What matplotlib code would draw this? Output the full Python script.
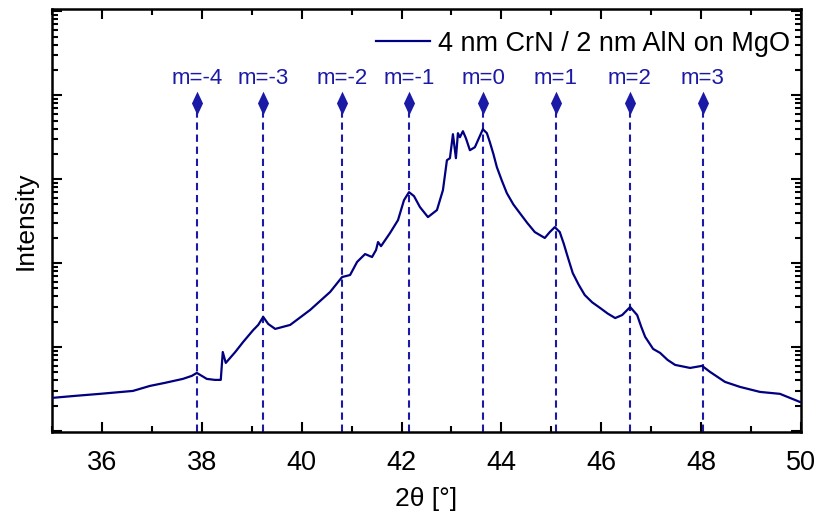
import numpy as np
import matplotlib
matplotlib.use("Agg")
import matplotlib.pyplot as plt
from matplotlib.ticker import LogLocator, MultipleLocator, NullFormatter

plt.rcParams['font.family'] = ['Liberation Sans', 'DejaVu Sans']

# XRD scan, 4 nm CrN / 2 nm AlN superlattice on MgO
two_theta = [35.00, 35.46, 35.96, 36.62, 36.96, 37.26, 37.62, 37.80, 37.90, 38.00,
             38.10, 38.26, 38.38, 38.42, 38.48, 38.67, 38.83, 39.03, 39.13, 39.23,
             39.33, 39.47, 39.77, 40.17, 40.57, 40.81, 40.97, 41.11, 41.27, 41.41,
             41.49, 41.53, 41.59, 41.77, 41.93, 42.05, 42.15, 42.25, 42.37, 42.53,
             42.71, 42.83, 42.91, 42.97, 43.03, 43.09, 43.13, 43.17, 43.23, 43.29,
             43.37, 43.47, 43.55, 43.63, 43.71, 43.77, 43.84, 43.91, 44.01, 44.11,
             44.24, 44.37, 44.52, 44.67, 44.87, 44.97, 45.07, 45.17, 45.25, 45.33,
             45.43, 45.55, 45.67, 45.82, 45.98, 46.13, 46.28, 46.42, 46.58, 46.72,
             46.80, 46.88, 47.04, 47.18, 47.33, 47.48, 47.78, 48.02, 48.18, 48.48,
             48.78, 49.18, 49.58, 49.98]
intensity = [2.47, 2.61, 2.76, 2.99, 3.43, 3.73, 4.16, 4.52, 4.90, 4.52,
             4.16, 4.05, 4.05, 8.7, 6.45, 8.7, 11.5, 15.9, 18.3, 22.8,
             18.8, 16.4, 18.3, 27.6, 45.2, 68.1, 72.0, 103, 128, 118,
             143, 178, 159, 228, 325, 562, 700, 628, 464, 353,
             428, 740, 1683, 1778, 3436, 1778, 3532, 3162, 3727, 3076,
             2213, 2404, 3076, 3937, 3532, 2754, 2000, 1390, 960, 681,
             500, 394, 300, 234, 199, 234, 268, 234, 170, 118,
             76, 55, 41.6, 34.0, 29.1, 25.0, 22.1, 24.0, 29.9, 24.0,
             17.5, 13.2, 9.47, 8.49, 7.0, 6.11, 5.62, 5.95, 5.04, 3.83,
             3.34, 2.91, 2.76, 2.21]

# satellite peak orders and positions
orders = [-4, -3, -2, -1, 0, 1, 2, 3]
sat_pos = [37.91, 39.23, 40.81, 42.16, 43.64, 45.09, 46.57, 48.03]
marker_level = 8000
label_level = 16000

navy = '#000080'
blue = '#1a1aa6'

fig = plt.figure(figsize=(8.18, 5.13), dpi=100)
ax = fig.add_axes([0.0636, 0.158, 0.9155, 0.824])

ax.plot(two_theta, intensity, color=navy, lw=1.6, label='4 nm CrN / 2 nm AlN on MgO', zorder=3)

diamond = [(0, 1), (0.47, 0), (0, -1), (-0.47, 0), (0, 1)]
for m, pos in zip(orders, sat_pos):
    ax.plot([pos, pos], [0.5, marker_level], color=blue, lw=1.5,
            linestyle=(0, (3.5, 2.3)), zorder=2)
    ax.plot([pos], [marker_level], marker=diamond, ms=17, color=blue,
            markeredgewidth=0, zorder=4)
    ax.text(pos, label_level, 'm={}'.format(m), color=blue, fontsize=16,
            ha='center', va='center')

ax.set_yscale('log')
ax.set_xlim(35, 50)
ax.set_ylim(0.97, 1.06e5)

ax.xaxis.set_major_locator(MultipleLocator(2))
ax.xaxis.set_minor_locator(MultipleLocator(1))
ax.yaxis.set_major_locator(LogLocator(base=10, numticks=10))
ax.yaxis.set_minor_locator(LogLocator(base=10, subs=np.arange(2, 10), numticks=20))
ax.yaxis.set_major_formatter(NullFormatter())
ax.yaxis.set_minor_formatter(NullFormatter())

ax.tick_params(which='both', direction='in', top=True, right=True, width=1.5, labelsize=19.5)
ax.tick_params(which='major', length=7)
ax.tick_params(which='minor', length=4)
ax.tick_params(axis='x', pad=13)
for sp in ax.spines.values():
    sp.set_linewidth(1.8)

ax.set_xlabel('2θ [°]', fontsize=19, labelpad=8)
ax.set_ylabel('Intensity', fontsize=19, labelpad=7)

ax.legend(loc='upper right', bbox_to_anchor=(1.0, 0.975), frameon=False,
          fontsize=19.5, handlelength=2.0, handletextpad=0.3,
          borderaxespad=0.1, borderpad=0.3)

fig.savefig('out.png', dpi=100)
